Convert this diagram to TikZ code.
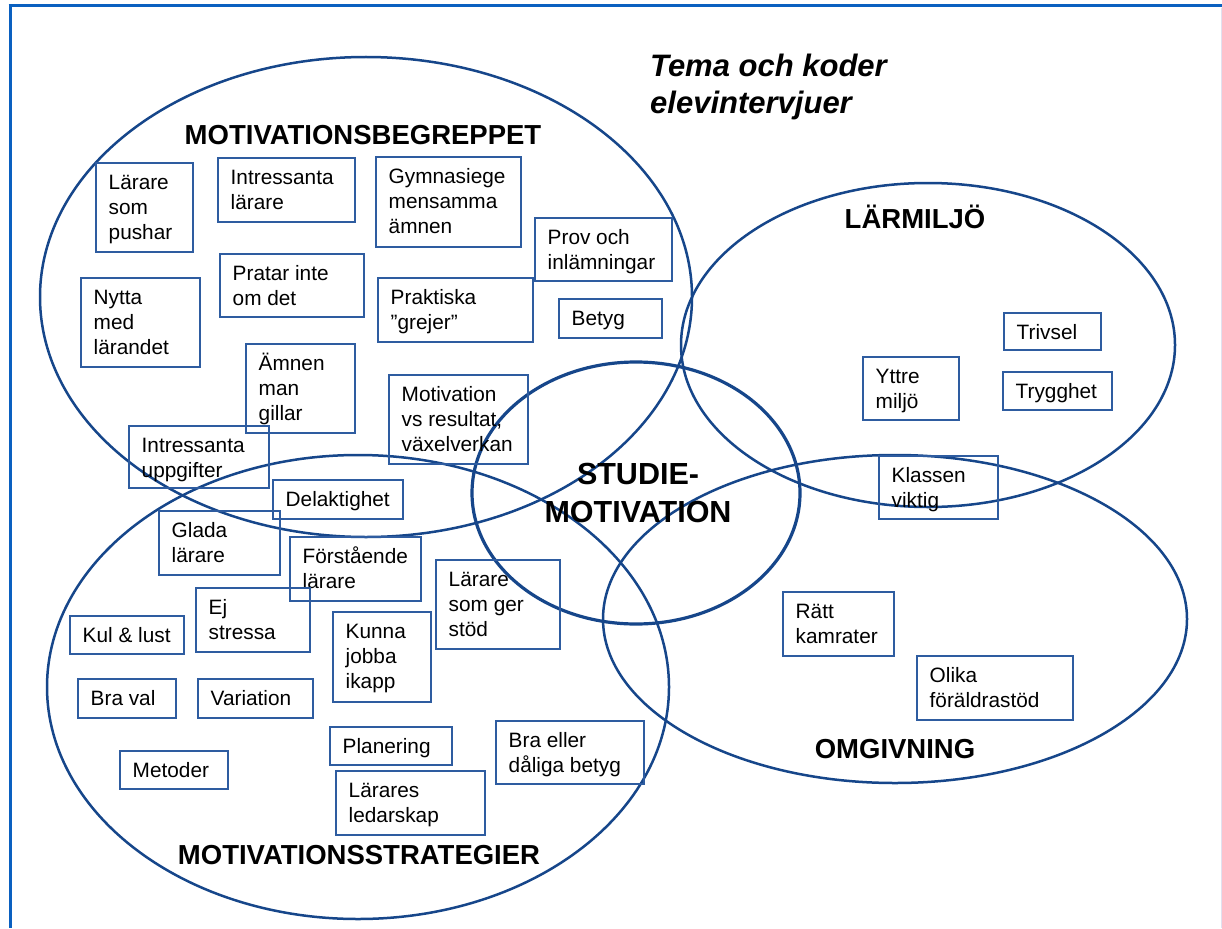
\documentclass[tikz,border=0pt]{standalone}
\usepackage{fontspec}
\setmainfont{Liberation Sans}
\definecolor{ellc}{RGB}{22,70,138}
\definecolor{bxc}{RGB}{46,92,160}
\definecolor{framec}{RGB}{10,96,192}
\definecolor{edgec}{RGB}{225,225,240}
\tikzset{
  boxst/.style={draw=bxc, line width=1.3pt, inner sep=0pt, rectangle},
  txt/.style={inner sep=0pt, font=\fontsize{20.8}{25}\selectfont, text=black},
  ellst/.style={draw=ellc, line width=2.5pt},
  headst/.style={inner sep=0pt, font=\fontsize{27.5}{33}\selectfont\bfseries, text=black},
}
\newcommand{\bx}[6]{%
  \node[boxst, minimum width={#4-#2}, minimum height={#5-#3}] (#1) at ({(#2+#4)/2},{(#3+#5)/2}) {};
  \node[txt, anchor=base west] (#1t) at ({#2+12.5},{#3+26.5}) {\begin{tabular}[t]{@{}l@{}}#6\end{tabular}};
}
\begin{document}
\begin{tikzpicture}[x=1pt,y=-1pt]
\fill[white] (0,0) rectangle (1222,928);
\useasboundingbox (0,0) rectangle (1222,928);
% frame
\draw[edgec, line width=1pt] (1221,8) -- (1221,928);
\draw[framec, line width=3pt] (8.5,6) -- (1222,6);
\draw[framec, line width=3pt] (10,4.5) -- (10,928);
% ellipses
\draw[ellst] (366,297) ellipse [x radius=326pt, y radius=240pt];
\draw[ellst] (928,345) ellipse [x radius=247pt, y radius=162pt];
\draw[ellst] (895,619) ellipse [x radius=292pt, y radius=164pt];
\draw[ellst] (358,687) ellipse [x radius=311pt, y radius=232pt];
\draw[draw=ellc, line width=3.2pt] (636,493) ellipse [x radius=164pt, y radius=131pt];
% title
\node[anchor=base west, inner sep=0pt, font=\fontsize{31}{37}\selectfont\bfseries\itshape] (title) at (650,77) {\begin{tabular}[t]{@{}l@{}}Tema och koder\\elevintervjuer\end{tabular}};
% headings
\node[headst, anchor=base] (h1) at (363,145) {MOTIVATIONSBEGREPPET};
\node[headst, anchor=base] (h2) at (915,228) {LÄRMILJÖ};
\node[headst, anchor=base] (h3) at (359,864) {MOTIVATIONSSTRATEGIER};
\node[headst, anchor=base] (h4) at (895,758) {OMGIVNING};
\node[inner sep=0pt, anchor=base, font=\fontsize{30.5}{38}\selectfont\bfseries] (center) at (638,484) {\begin{tabular}[t]{@{}c@{}}STUDIE-\\MOTIVATION\end{tabular}};
% boxes
\bx{b1}{96}{163}{193}{252}{Lärare\\som\\pushar}
\bx{b2}{218}{158}{355}{222}{Intressanta\\lärare}
\bx{b3}{376}{157}{521}{247}{Gymnasiege\\mensamma\\ämnen}
\bx{b4}{535}{218}{672}{281}{Prov och\\inlämningar}
\bx{b5}{81}{278}{200}{367}{Nytta\\med\\lärandet}
\bx{b6}{220}{254}{364}{317}{Pratar inte\\om det}
\bx{b7}{378}{278}{533}{342}{Praktiska\\”grejer”}
\bx{b8}{559}{299}{662}{338}{Betyg}
\bx{b9}{246}{344}{355}{433}{Ämnen\\man\\gillar}
\bx{b10}{389}{375}{528}{464}{Motivation\\vs resultat,\\växelverkan}
\bx{b11}{129}{426}{269}{488}{Intressanta\\uppgifter}
\bx{b12}{273}{480}{403}{519}{Delaktighet}
\bx{b13}{159}{511}{280}{575}{Glada\\lärare}
\bx{b14}{290}{537}{421}{601}{Förstående\\lärare}
\bx{b15}{196}{588}{310}{652}{Ej\\stressa}
\bx{b16}{70}{616}{184}{654}{Kul \& lust}
\bx{b17}{333}{612}{431}{702}{Kunna\\jobba\\ikapp}
\bx{b18}{436}{560}{560}{649}{Lärare\\som ger\\stöd}
\bx{b19}{78}{679}{176}{718}{Bra val}
\bx{b20}{198}{679}{313}{718}{Variation}
\bx{b21}{330}{727}{452}{765}{Planering}
\bx{b22}{120}{751}{228}{789}{Metoder}
\bx{b23}{336}{771}{485}{835}{Lärares\\ledarskap}
\bx{b24}{496}{721}{644}{784}{Bra eller\\dåliga betyg}
\bx{b25}{1004}{313}{1101}{350}{Trivsel}
\bx{b26}{863}{357}{959}{420}{Yttre\\miljö}
\bx{b27}{1003}{372}{1112}{410}{Trygghet}
\bx{b28}{879}{456}{998}{519}{Klassen\\viktig}
\bx{b29}{783}{592}{894}{656}{Rätt\\kamrater}
\bx{b30}{917}{656}{1073}{720}{Olika\\föräldrastöd}
\end{tikzpicture}
\end{document}
